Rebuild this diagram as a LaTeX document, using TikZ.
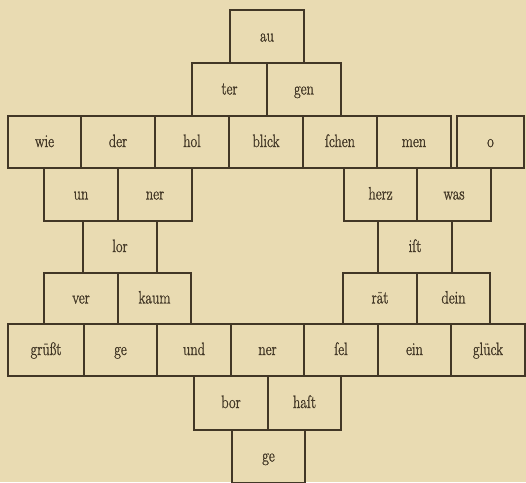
\documentclass[tikz,border=0pt]{standalone}
\usepackage{fontspec}
\setmainfont{Latin Modern Roman}
\newfontfamily\brickfont[FakeStretch=0.8,FakeBold=1.2]{Latin Modern Roman}
\definecolor{paper}{RGB}{233,219,178}
\definecolor{ink}{RGB}{66,55,38}
\tikzset{
  brick/.style={draw=ink, line width=2pt, inner sep=0pt, anchor=north west,
    text=ink, text height=10pt, text depth=0pt,
    font=\brickfont\fontsize{18}{18}\selectfont}
}
\newcommand{\brk}[6]{%
  \pgfmathsetmacro{\bw}{#4-#2}\pgfmathsetmacro{\bh}{#5-#3}%
  \node[brick, minimum width=\bw pt, minimum height=\bh pt] (#1) at (#2,#3) {#6};}
\begin{document}
\begin{tikzpicture}[x=1pt,y=-1pt]
\fill[paper] (0,0) rectangle (526,482);
\useasboundingbox (0,0) rectangle (526,482);
% row 1
\brk{au}{229}{9}{303}{62}{au}
% row 2
\brk{ter}{191}{62}{266}{115}{ter}
\brk{gen}{266}{62}{340}{115}{gen}
% row 3
\brk{wie}{7}{115}{80}{167}{wie}
\brk{der}{80}{115}{154}{167}{der}
\brk{hol}{154}{115}{228}{167}{hol}
\brk{blick}{228}{115}{302}{167}{blick}
\brk{schen}{302}{115}{376}{167}{ſchen}
\brk{men}{376}{115}{450}{167}{men}
\brk{o}{456}{115}{523}{167}{o}
% row 4
\brk{un}{43}{167}{117}{220}{un}
\brk{nerA}{117}{167}{191}{220}{ner}
\brk{herz}{343}{167}{416}{220}{herz}
\brk{was}{416}{167}{490}{220}{was}
% row 5
\brk{lor}{82}{220}{156}{272}{lor}
\brk{ist}{377}{220}{451}{272}{iſt}
% row 6
\brk{ver}{43}{272}{117}{323}{ver}
\brk{kaum}{117}{272}{190}{323}{kaum}
\brk{raet}{342}{272}{416}{323}{rät}
\brk{dein}{416}{272}{489}{323}{dein}
% row 7
\brk{gruesst}{7}{323}{83}{375}{grüßt}
\brk{geA}{83}{323}{156}{375}{ge}
\brk{und}{156}{323}{230}{375}{und}
\brk{nerB}{230}{323}{303}{375}{ner}
\brk{sel}{303}{323}{377}{375}{ſel}
\brk{ein}{377}{323}{450}{375}{ein}
\brk{glueck}{450}{323}{524}{375}{glück}
% row 8
\brk{bor}{193}{375}{267}{429}{bor}
\brk{haft}{267}{375}{340}{429}{haſt}
% row 9
\brk{geB}{231}{429}{304}{482}{ge}
\end{tikzpicture}
\end{document}
